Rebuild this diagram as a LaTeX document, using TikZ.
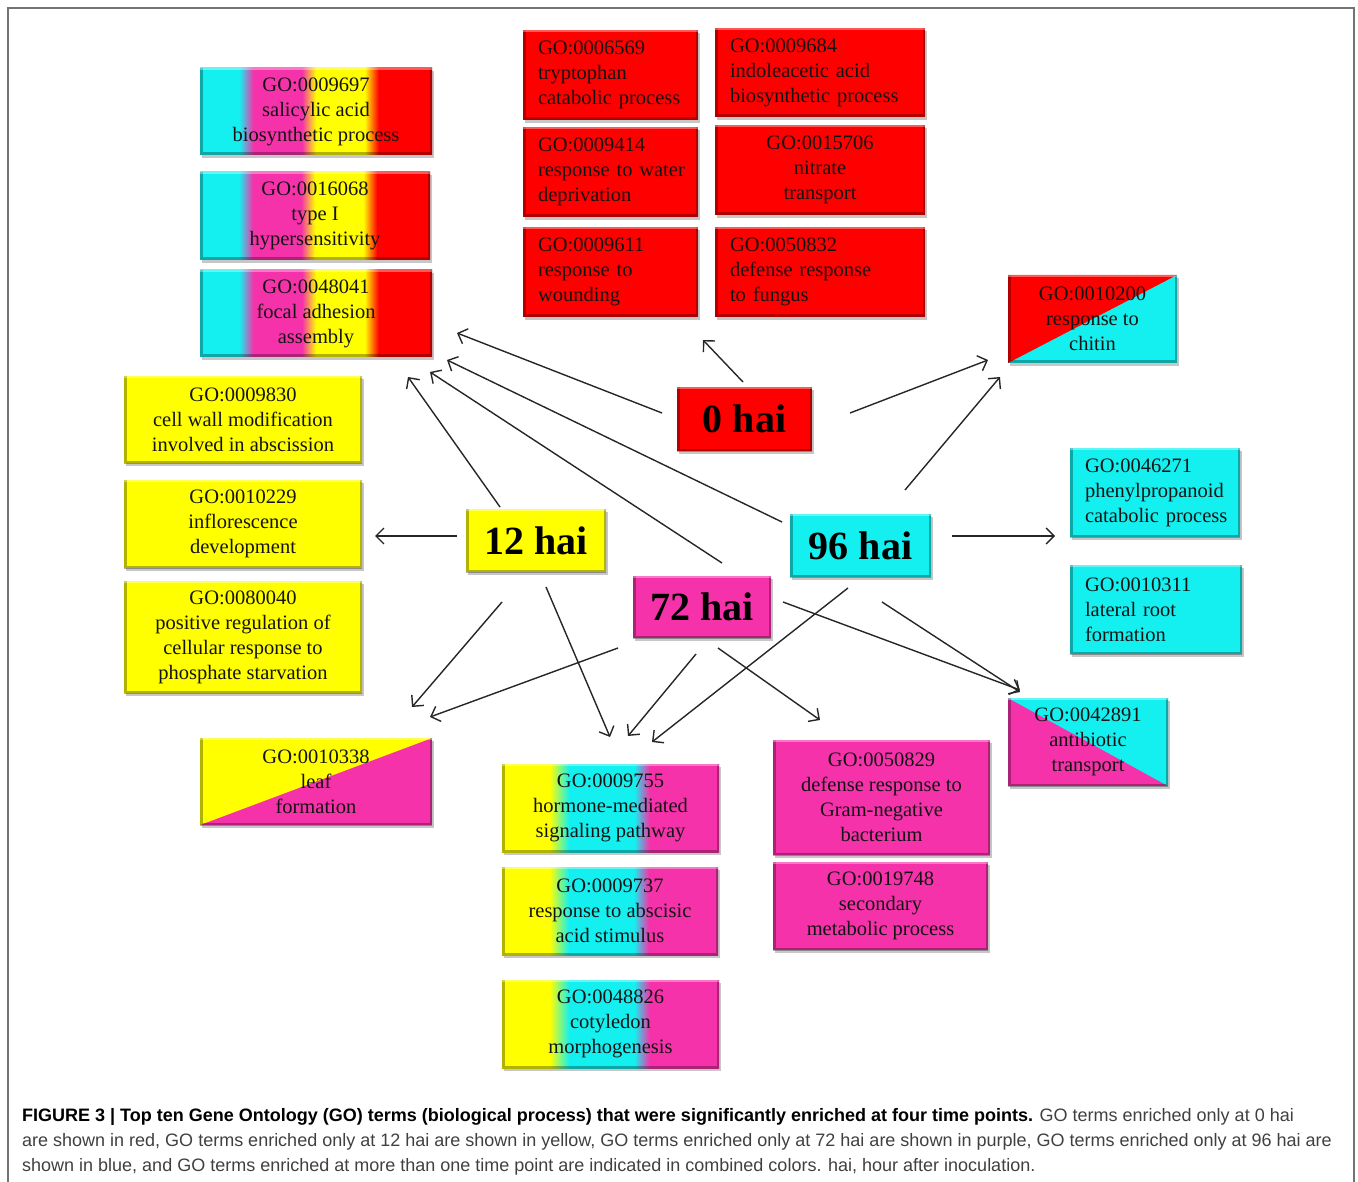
\documentclass[tikz,border=0pt]{standalone}
\usepackage{fontspec}
\setmainfont{Liberation Serif}
\newfontfamily\capfont{Liberation Sans}
\usetikzlibrary{arrows.meta}
\definecolor{cR}{RGB}{255,0,0}
\definecolor{cY}{RGB}{255,255,0}
\definecolor{cC}{RGB}{20,240,240}
\definecolor{cP}{RGB}{245,50,170}
\pgfdeclarehorizontalshading{multi}{100bp}{color(0bp)=(cC); color(33.5bp)=(cC); color(36.5bp)=(cP); color(47bp)=(cP); color(50bp)=(cY); color(60.5bp)=(cY); color(63.5bp)=(cR); color(100bp)=(cR)}
\pgfdeclarehorizontalshading{ycp}{100bp}{color(0bp)=(cY); color(36bp)=(cY); color(40.5bp)=(cC); color(55.5bp)=(cC); color(59bp)=(cP); color(100bp)=(cP)}
\pgfdeclarelayer{bg}
\pgfsetlayers{bg,main}
\newcommand\edgeshade{%
  \draw[line width=5pt, black, opacity=.3] (path picture bounding box.north west) -- (path picture bounding box.south west) -- (path picture bounding box.south east) -- (path picture bounding box.north east);
  \draw[line width=4pt, white, opacity=.35] (path picture bounding box.north west) -- (path picture bounding box.north east);
}
\newcommand\boxfont{\fontsize{20.5}{25}\selectfont}
\newcommand\hubfont{\fontsize{40}{44}\selectfont\bfseries}
\tikzset{
  gobox/.style 2 args={minimum width=#1, minimum height=#2, inner sep=0pt, font=\boxfont, text=black!92, path picture={\edgeshade}},
  hub/.style 2 args={minimum width=#1, minimum height=#2, inner sep=0pt, font=\hubfont, text=black, path picture={\edgeshade}},
  redbox/.style={fill=cR},
  yelbox/.style={fill=cY},
  cyabox/.style={fill=cC},
  pinbox/.style={fill=cP},
  multibox/.style={shade, shading=multi},
  ycpbox/.style={shade, shading=ycp},
  diagRC/.style={fill=cC, path picture={\fill[cR] (path picture bounding box.south west) -- (path picture bounding box.north west) -- (path picture bounding box.north east) -- cycle; \edgeshade}},
  diagYP/.style={fill=cP, path picture={\fill[cY] (path picture bounding box.south west) -- (path picture bounding box.north west) -- (path picture bounding box.north east) -- cycle; \edgeshade}},
  diagPC/.style={fill=cP, path picture={\fill[cC] (path picture bounding box.north west) -- (path picture bounding box.north east) -- (path picture bounding box.south east) -- cycle; \edgeshade}},
  conn/.style={draw=black!85, line width=1.4pt, -{Straight Barb[length=8pt,width=16pt]}},
  frame/.style={draw=black!55, line width=1.5pt},
  captext/.style={anchor=base west, inner sep=0pt, font=\capfont\fontsize{18}{22}\selectfont, text=black!75},
}
\begin{document}
\begin{tikzpicture}[x=1pt, y=-1pt]
\useasboundingbox (0,0) rectangle (1358,1182);
\draw[frame] (8,1182) -- (8,8) -- (1354,8) -- (1354,1182);

% multi-colour boxes
\node[gobox={232pt}{87pt}, multibox, align=center] (M1) at (316,111.5) {GO:0009697\\salicylic acid\\biosynthetic process};
\node[gobox={230pt}{88pt}, multibox, align=center] (M2) at (315,216) {GO:0016068\\type I\\hypersensitivity};
\node[gobox={232pt}{87pt}, multibox, align=center] (M3) at (316,313.5) {GO:0048041\\focal adhesion\\assembly};

% red boxes
\node[gobox={175pt}{90pt}, redbox, align=left, text width=145pt] (R1) at (610.5,75) {GO:0006569\\tryptophan\\\mbox{catabolic process}};
\node[gobox={210pt}{89pt}, redbox, align=left, text width=180pt] (R2) at (820,72.5) {GO:0009684\\indoleacetic acid\\\mbox{biosynthetic process}};
\node[gobox={175pt}{90pt}, redbox, align=left, text width=145pt] (R3) at (610.5,172) {GO:0009414\\\mbox{response to water}\\deprivation};
\node[gobox={210pt}{90pt}, redbox, align=center] (R4) at (820,170) {GO:0015706\\nitrate\\transport};
\node[gobox={175pt}{90pt}, redbox, align=left, text width=145pt] (R5) at (610.5,272) {GO:0009611\\response to\\wounding};
\node[gobox={210pt}{90pt}, redbox, align=left, text width=180pt] (R6) at (820,272) {GO:0050832\\\mbox{defense response}\\to fungus};

% chitin
\node[gobox={169pt}{88pt}, diagRC, align=center] (CH) at (1092.5,319) {GO:0010200\\response to\\chitin};

% yellow boxes
\node[gobox={238pt}{87pt}, yelbox, align=center] (Y1) at (243,419.5) {GO:0009830\\cell wall modification\\involved in abscission};
\node[gobox={238pt}{88pt}, yelbox, align=center] (Y2) at (243,524) {GO:0010229\\inflorescence\\development};
\node[gobox={238pt}{112pt}, yelbox, align=center] (Y3) at (243,637) {GO:0080040\\positive regulation of\\cellular response to\\phosphate starvation};

% hubs
\node[hub={135pt}{64pt}, redbox] (H0) at (744.5,419) {0 hai};
\node[hub={140pt}{63pt}, yelbox] (H12) at (536,540.5) {12 hai};
\node[hub={141pt}{63pt}, cyabox] (H96) at (860.5,545.5) {96 hai};
\node[hub={138pt}{62pt}, pinbox] (H72) at (702,607) {72 hai};

% cyan boxes
\node[gobox={170pt}{89pt}, cyabox, align=left, text width=140pt] (C1) at (1155,492.5) {GO:0046271\\phenylpropanoid\\\mbox{catabolic process}};
\node[gobox={172pt}{89pt}, cyabox, align=left, text width=142pt] (C2) at (1156,609.5) {GO:0010311\\lateral root\\formation};

% antibiotic
\node[gobox={160pt}{88pt}, diagPC, align=center] (AB) at (1088,742) {GO:0042891\\antibiotic\\transport};

% leaf formation
\node[gobox={232pt}{87pt}, diagYP, align=center] (LF) at (316,781.5) {GO:0010338\\leaf\\formation};

% yellow-cyan-pink boxes
\node[gobox={217pt}{88pt}, ycpbox, align=center] (B1) at (610.5,808) {GO:0009755\\hormone-mediated\\signaling pathway};
\node[gobox={216pt}{88pt}, ycpbox, align=center] (B2) at (610,911) {GO:0009737\\response to abscisic\\acid stimulus};
\node[gobox={217pt}{88pt}, ycpbox, align=center] (B3) at (610.5,1024) {GO:0048826\\cotyledon\\morphogenesis};

% pink boxes
\node[gobox={217pt}{115pt}, pinbox, align=center] (P1) at (881.5,797.5) {GO:0050829\\defense response to\\Gram-negative\\bacterium};
\node[gobox={215pt}{88pt}, pinbox, align=center] (P2) at (880.5,906) {GO:0019748\\secondary\\metabolic process};

% shadows
\begin{pgfonlayer}{bg}
\foreach \n in {M1,M2,M3,R1,R2,R3,R4,R5,R6,CH,Y1,Y2,Y3,H0,H12,H96,H72,C1,C2,AB,LF,B1,B2,B3,P1,P2}{
  \fill[black, opacity=.22] ([shift={(2pt,-3pt)}]\n.south west) rectangle ([shift={(2pt,-3pt)}]\n.north east);
}
\end{pgfonlayer}

% connectors
\foreach \i/\sx/\sy/\ex/\ey in {
  1/743/382/703/340, 2/662/413/457/333, 3/850/413/988/360,
  4/500/507/408/377, 5/457/536/375/536, 6/502/602/412/707, 7/546/587/610/737,
  8/722/563/430/372, 9/618/648/430/717, 10/696/654/628/736, 11/718/648/820/720, 12/783/602/1020/690,
  13/782/522/447/360, 14/905/490/1000/377, 15/952/536/1055/536, 16/848/588/652/742, 17/882/602/1020/692}{
  \coordinate (s\i) at (\sx,\sy);
  \coordinate (e\i) at (\ex,\ey);
  \draw[conn] (s\i) -- (e\i);
}

% caption
\node[captext] (cap1) at (22,1121) {\textbf{\color{black}FIGURE 3 | Top ten Gene Ontology (GO) terms (biological process) that were significantly enriched at four time points.} GO terms enriched only at 0 hai};
\node[captext] (cap2) at (22,1146) {are shown in red, GO terms enriched only at 12 hai are shown in yellow, GO terms enriched only at 72 hai are shown in purple, GO terms enriched only at 96 hai are};
\node[captext] (cap3) at (22,1171) {shown in blue, and GO terms enriched at more than one time point are indicated in combined colors. hai, hour after inoculation.};
\end{tikzpicture}
\end{document}
